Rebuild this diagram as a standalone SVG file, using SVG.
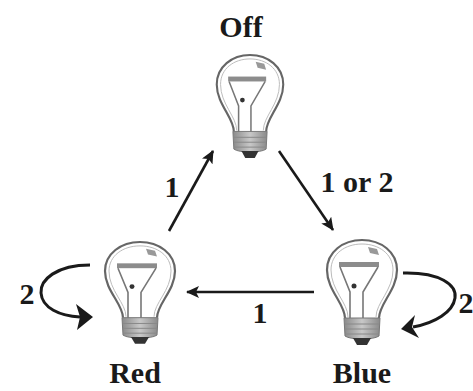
<svg xmlns="http://www.w3.org/2000/svg" width="473" height="391" viewBox="0 0 473 391">
<style>
.lbl{font-family:"Liberation Serif","Times New Roman",serif;font-weight:bold;font-size:30px;fill:#1a1a1a;text-anchor:middle}
.glass{fill:none;stroke:#666;stroke-width:2.2}
.glass2{fill:none;stroke:#bbb;stroke-width:1}
.fil{fill:none;stroke:#777;stroke-width:1.6}
.edge{fill:none;stroke:#1a1a1a;stroke-width:2.6}
.loop{fill:none;stroke:#1a1a1a;stroke-width:3}
</style>
<defs>
<linearGradient id="bg" x1="0" y1="0" x2="1" y2="0">
<stop offset="0" stop-color="#8a8a8a"/><stop offset="0.5" stop-color="#c8c8c8"/><stop offset="1" stop-color="#8a8a8a"/>
</linearGradient>
<marker id="ah" markerUnits="userSpaceOnUse" markerWidth="14" markerHeight="12" refX="12" refY="6" orient="auto">
<path d="M0,0 L13,6 L0,12 L3,6 Z" fill="#1a1a1a"/>
</marker>
<g id="bulb">
<path class="glass" d="M-17,78 C-17,64 -35,50 -35,30 C-35,12 -19,0 0,0 C19,0 35,12 35,30 C35,50 17,64 17,78"/>
<path class="glass2" d="M-14,77 C-14,63 -31,50 -31,30 C-31,14 -17,4 0,4 C17,4 31,14 31,30 C31,50 14,63 14,77"/>
<rect x="-23" y="22" width="40" height="5" fill="#8c8c8c"/>
<path d="M6,7 L15,9 L17,15 L8,13 Z" fill="#999"/>
<path class="fil" d="M-22,27 L-12,52 L-12,79 M16,27 L1,52 L1,79"/>
<circle cx="-8" cy="46" r="2.5" fill="#333"/>
<path d="M-18,78 L18,78 L17,96 C12,100 -12,100 -17,96 Z" fill="url(#bg)" stroke="#777" stroke-width="1"/>
<path d="M-17,84 L17,84 M-17,89 L17,89 M-16,94 L16,94" stroke="#888" stroke-width="1"/>
<path d="M-9,98 L9,98 L5,105 L-5,105 Z" fill="#333"/>
</g>
</defs>
<g id="node-off">
<use href="#bulb" transform="translate(250,55) scale(0.95,0.98)"/>
<text class="lbl" x="241" y="37">Off</text>
</g>
<g id="node-red">
<use href="#bulb" transform="translate(140,242) scale(1,0.97)"/>
<text class="lbl" x="135" y="383">Red</text>
</g>
<g id="node-blue">
<use href="#bulb" transform="translate(362,240)"/>
<text class="lbl" x="362" y="383">Blue</text>
</g>
<g id="connectors">
<line class="edge" x1="169" y1="231" x2="213" y2="151" marker-end="url(#ah)"/>
<line class="edge" x1="279" y1="151" x2="333" y2="230" marker-end="url(#ah)"/>
<line class="edge" x1="314" y1="292" x2="187" y2="292" marker-end="url(#ah)"/>
<path class="loop" d="M90,265 C56,265 40,280 41,293 C42,308 60,316 80,317"/>
<polygon points="93,317 76,304 80,317 77,330" fill="#1a1a1a"/>
<path class="loop" d="M403,273 C440,272 457,285 455,298 C453,312 435,323 413,327"/>
<polygon points="401,329 415,315 412,327 419,338" fill="#1a1a1a"/>
<text class="lbl" x="172" y="197">1</text>
<text class="lbl" x="357" y="192">1 or 2</text>
<text class="lbl" x="260" y="323">1</text>
<text class="lbl" x="27" y="304">2</text>
<text class="lbl" x="466" y="313">2</text>
</g>
</svg>
